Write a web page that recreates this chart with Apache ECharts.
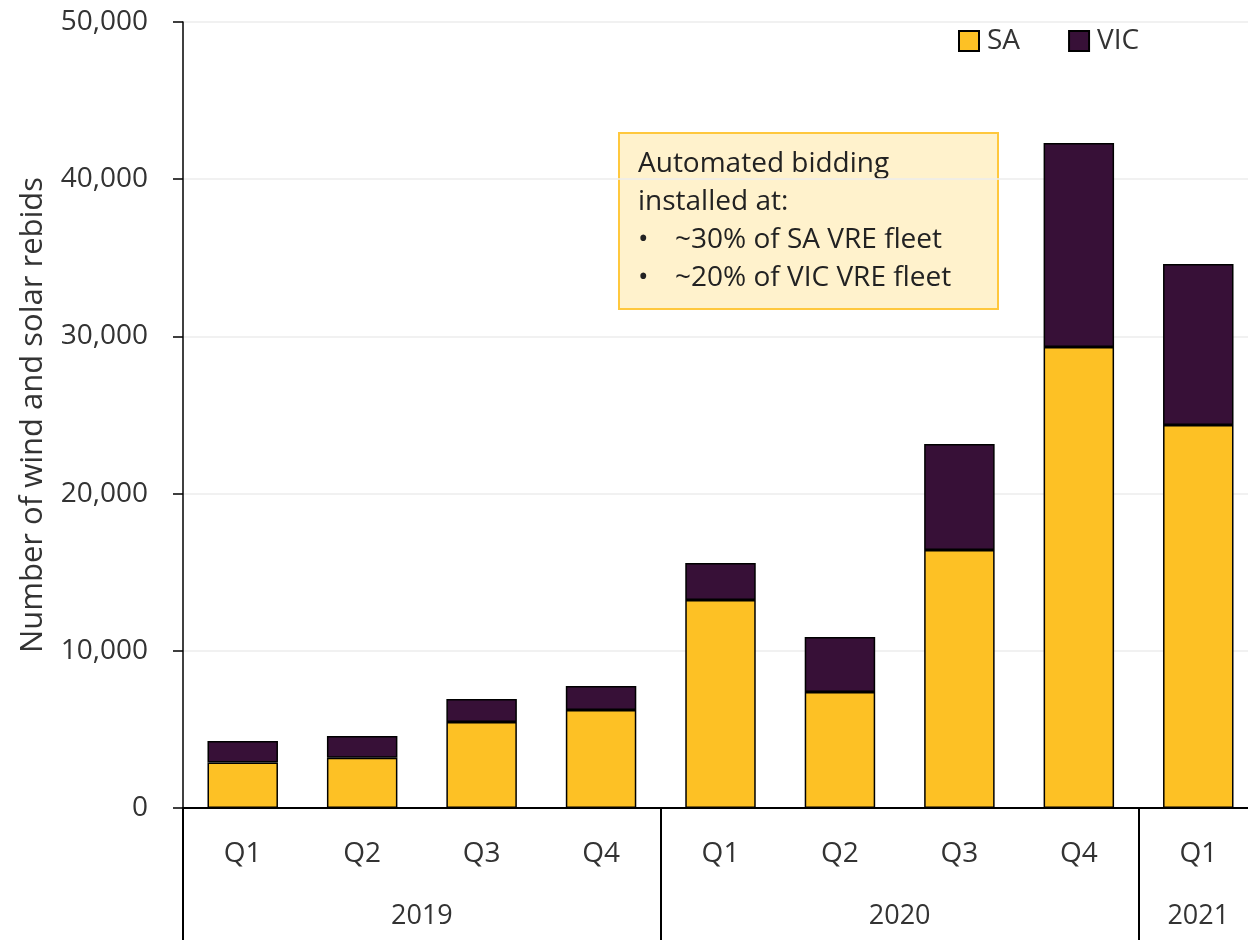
<!DOCTYPE html>
<html>
<head>
    <meta charset="utf-8">
    <title>Wind and solar rebids</title>
    <script src="https://cdn.jsdelivr.net/npm/echarts@6/dist/echarts.min.js"></script>
    <style>
        html, body { margin: 0; padding: 0; background: #fff; }
    </style>
</head>
<body>
    <div id="main" style="width: 1248px;height:940px;"></div>
    <script>
        // quarters and the year groups under them
        var quarters = ['Q1', 'Q2', 'Q3', 'Q4', 'Q1', 'Q2', 'Q3', 'Q4', 'Q1'];
        var years = ['2019', '2020', '2021'];
        var yearSpans = [4, 4, 1];

        // rebids per quarter
        var saValues = [2900, 3200, 5470, 6230, 13230, 7380, 16410, 29330, 24360];
        var vicValues = [1360, 1380, 1460, 1530, 2360, 3500, 6740, 12970, 10250];

        var noteLines = [
            'Automated bidding',
            'installed at:',
            '~30% of SA VRE fleet',
            '~20% of VIC VRE fleet'
        ];

        // year boundaries and centres on a 0..n scale
        var bounds = [0], centres = [];
        yearSpans.forEach(function (s, i) {
            centres.push(bounds[i] + s / 2);
            bounds.push(bounds[i] + s);
        });

        var font = 'Open Sans';
        var txt = '#333333';

        var myChart = echarts.init(document.getElementById('main'));

        var option = {
            animation: false,
            textStyle: { fontFamily: font },
            grid: { left: 183, top: 22, bottom: 132, width: 1075, outerBoundsMode: 'none', containLabel: false },
            legend: {
                data: ['SA', 'VIC'],
                left: 953, top: 22,
                icon: 'rect',
                itemWidth: 20, itemHeight: 20,
                itemGap: 48,
                textStyle: { fontSize: 28, color: txt, fontFamily: font, padding: [0, 0, 0, 3] }
            },
            xAxis: [{
                type: 'category',
                data: quarters,
                axisLine: { lineStyle: { color: '#000', width: 2 } },
                axisTick: { show: false },
                axisLabel: { fontSize: 28, color: txt, margin: 32, fontFamily: font }
            }, {
                type: 'value',
                min: 0, max: quarters.length,
                position: 'bottom',
                axisLine: { show: false },
                splitLine: { show: false },
                axisTick: {
                    show: true,
                    customValues: bounds.slice(0, bounds.length - 1),
                    length: 132,
                    lineStyle: { color: '#000', width: 2 }
                },
                axisLabel: {
                    customValues: centres,
                    fontSize: 27, color: txt, margin: 95, fontFamily: font,
                    formatter: function (v) {
                        var i = centres.indexOf(v);
                        return i >= 0 ? years[i] : '';
                    }
                }
            }],
            yAxis: {
                type: 'value',
                min: 0, max: 50000, interval: 10000,
                name: 'Number of wind and solar rebids',
                nameLocation: 'middle',
                nameGap: 134,
                nameTextStyle: { fontSize: 31, color: txt, fontFamily: font },
                axisLine: { show: true, lineStyle: { color: '#000', width: 1.5 } },
                axisTick: { show: true, length: 10, lineStyle: { color: '#000', width: 1.5 } },
                axisLabel: {
                    fontSize: 28, color: txt, margin: 35, fontFamily: font,
                    formatter: function (v) { return v.toLocaleString('en-US'); }
                },
                splitLine: { lineStyle: { color: '#ececec', width: 1.5 } }
            },
            series: [{
                name: 'SA',
                type: 'bar',
                stack: 'total',
                barWidth: '59%',
                data: saValues,
                itemStyle: { color: '#FDC125', borderColor: '#000', borderWidth: 1.5 }
            }, {
                name: 'VIC',
                type: 'bar',
                stack: 'total',
                data: vicValues,
                itemStyle: { color: '#371037', borderColor: '#000', borderWidth: 1.5 }
            }],
            graphic: [{
                type: 'group',
                left: 618, top: 132,
                children: [{
                    type: 'rect',
                    shape: { x: 0, y: 0, width: 379, height: 176 },
                    style: { fill: '#FFF2CC', stroke: '#FFC83D', lineWidth: 2 }
                }, {
                    type: 'text',
                    x: 19, y: 12,
                    style: {
                        text: noteLines[0] + '\n' + noteLines[1] + '\n' +
                            '{b|•}' + noteLines[2] + '\n' + '{b|•}' + noteLines[3],
                        font: '28px "Open Sans"',
                        fill: '#222',
                        lineHeight: 38,
                        rich: {
                            b: { width: 37, fontSize: 28, fontFamily: font, fill: '#222', lineHeight: 38 }
                        }
                    }
                }]
            }]
        };

        myChart.setOption(option);
    </script>
</body>
</html>
